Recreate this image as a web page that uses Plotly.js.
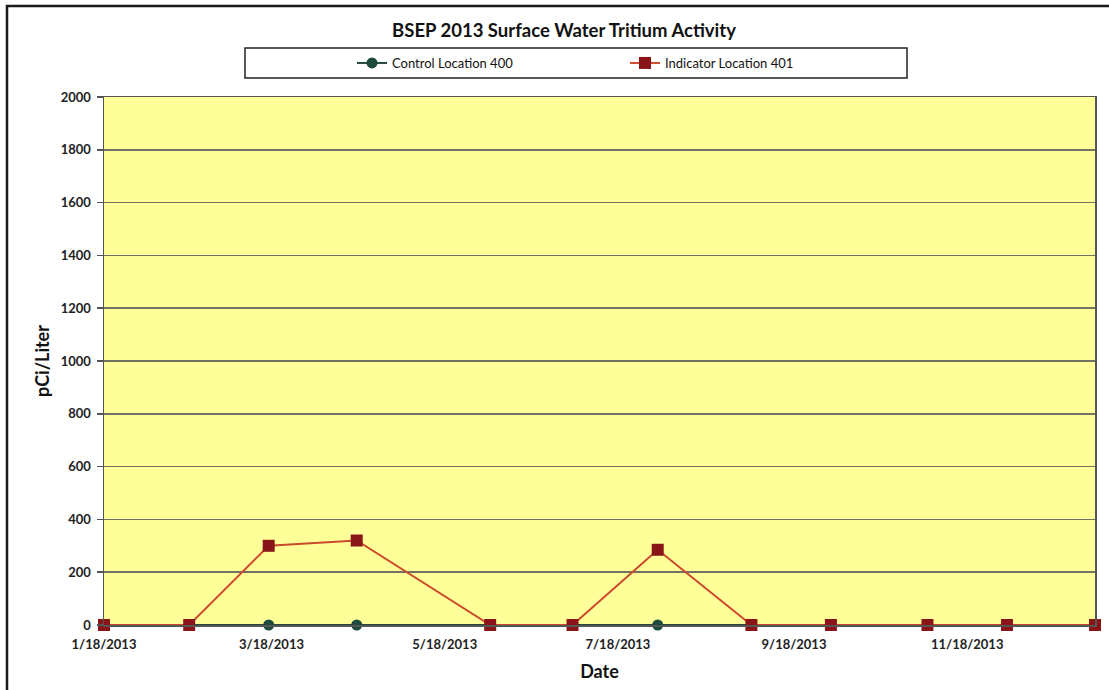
<!DOCTYPE html>
<html>
<head>
<meta charset="utf-8">
<script src="https://cdn.plot.ly/plotly-3.0.1.min.js"></script>
<style>
  html, body { margin: 0; padding: 0; background: #ffffff; }
  #chart { width: 1109px; height: 690px; }
</style>
</head>
<body>
<div id="chart"></div>
<script>
// Sample dates
var sampleDates = ['2013-01-18', '2013-02-17', '2013-03-17', '2013-04-17', '2013-06-03', '2013-07-02',
                   '2013-08-01', '2013-09-03', '2013-10-01', '2013-11-04', '2013-12-02', '2014-01-02'];
// Control Location 400 (pCi/Liter)
var controlValues = [0, 0, 0, 0, 0, 0, 0, 0, 0, 0, 0, 0];
// Indicator Location 401 (pCi/Liter)
var indicatorValues = [0, 0, 300, 320, 0, 0, 285, 0, 0, 0, 0, 0];
// X tick positions
var xTickDates = ['2013-01-18', '2013-03-18', '2013-05-18', '2013-07-18', '2013-09-18', '2013-11-18'];
var seriesNames = ['Control Location 400', 'Indicator Location 401'];

var FONT = 'Lato, "Open Sans", "DejaVu Sans", sans-serif';

var traces = [
  {
    x: sampleDates, y: controlValues, name: seriesNames[0],
    type: 'scatter', mode: 'lines+markers', cliponaxis: false,
    line: { color: '#24453a', width: 2 },
    marker: { symbol: 'circle', size: 11, color: '#1c4a3c' },
    hoverinfo: 'x+y'
  },
  {
    x: sampleDates, y: indicatorValues, name: seriesNames[1],
    type: 'scatter', mode: 'lines+markers', cliponaxis: false,
    line: { color: '#cc4a2c', width: 2 },
    marker: { symbol: 'square', size: 12, color: '#8a1518' },
    hoverinfo: 'x+y'
  }
];

var L = 104, R = 1095, T = 97, B = 625, W = 1109, H = 690;
var pw = R - L, ph = B - T;
function px(x) { return (x - L) / pw; }
function py(y) { return (B - y) / ph; }

var layout = {
  width: W, height: H,
  margin: { l: L, r: W - R, t: T, b: H - B, pad: 0 },
  paper_bgcolor: '#ffffff',
  plot_bgcolor: '#ffff99',
  showlegend: true,
  title: {
    text: '<b>BSEP 2013 Surface Water Tritium Activity</b>',
    font: { family: FONT, size: 18.5, color: '#111111' },
    x: 564 / W, xref: 'container', xanchor: 'center',
    y: 1 - 31 / H, yref: 'container', yanchor: 'middle'
  },
  legend: {
    orientation: 'h',
    x: px(352), xanchor: 'left',
    y: py(63), yanchor: 'middle',
    entrywidth: 228, entrywidthmode: 'pixels',
    bgcolor: 'rgba(0,0,0,0)', borderwidth: 0,
    font: { family: FONT, size: 13, color: '#111111' }
  },
  xaxis: {
    type: 'date',
    range: [sampleDates[0], sampleDates[sampleDates.length - 1]],
    tickmode: 'array', tickvals: xTickDates,
    tickformat: '%-m/%-d/%Y',
    ticks: '', showgrid: false, zeroline: false,
    showline: true, linecolor: '#555555', linewidth: 1.5, mirror: true,
    ticklabelstandoff: 7,
    tickfont: { family: FONT, size: 13, weight: 'bold', color: '#222222' },
    title: { text: '<b>Date</b>', font: { family: FONT, size: 18, color: '#111111' }, standoff: 14 }
  },
  yaxis: {
    range: [0, 2000], dtick: 200, tick0: 0,
    ticks: 'outside', ticklen: 6, tickcolor: '#555555', tickwidth: 1.5,
    showgrid: true, gridcolor: '#727262', gridwidth: 1.5,
    zeroline: false,
    showline: true, linecolor: '#555555', linewidth: 1.5, mirror: true,
    ticklabelstandoff: 3,
    tickfont: { family: FONT, size: 13, weight: 'bold', color: '#222222' },
    title: { text: '<b>pCi/Liter</b>', font: { family: FONT, size: 18, color: '#111111' }, standoff: 6 }
  },
  shapes: [
    // outer chart border (top & left visible)
    { type: 'path', xref: 'paper', yref: 'paper',
      path: 'M ' + px(7) + ' ' + py(700) + ' L ' + px(7) + ' ' + py(6) + ' L ' + px(1120) + ' ' + py(6),
      line: { color: '#1a1a1a', width: 2.5 }, layer: 'above' },
    // legend box
    { type: 'rect', xref: 'paper', yref: 'paper',
      x0: px(245), x1: px(907), y0: py(78), y1: py(48),
      line: { color: '#222222', width: 1.5 }, fillcolor: 'rgba(0,0,0,0)', layer: 'above' }
  ]
};

Plotly.newPlot('chart', traces, layout, { displayModeBar: false, staticPlot: true });
</script>
</body>
</html>
